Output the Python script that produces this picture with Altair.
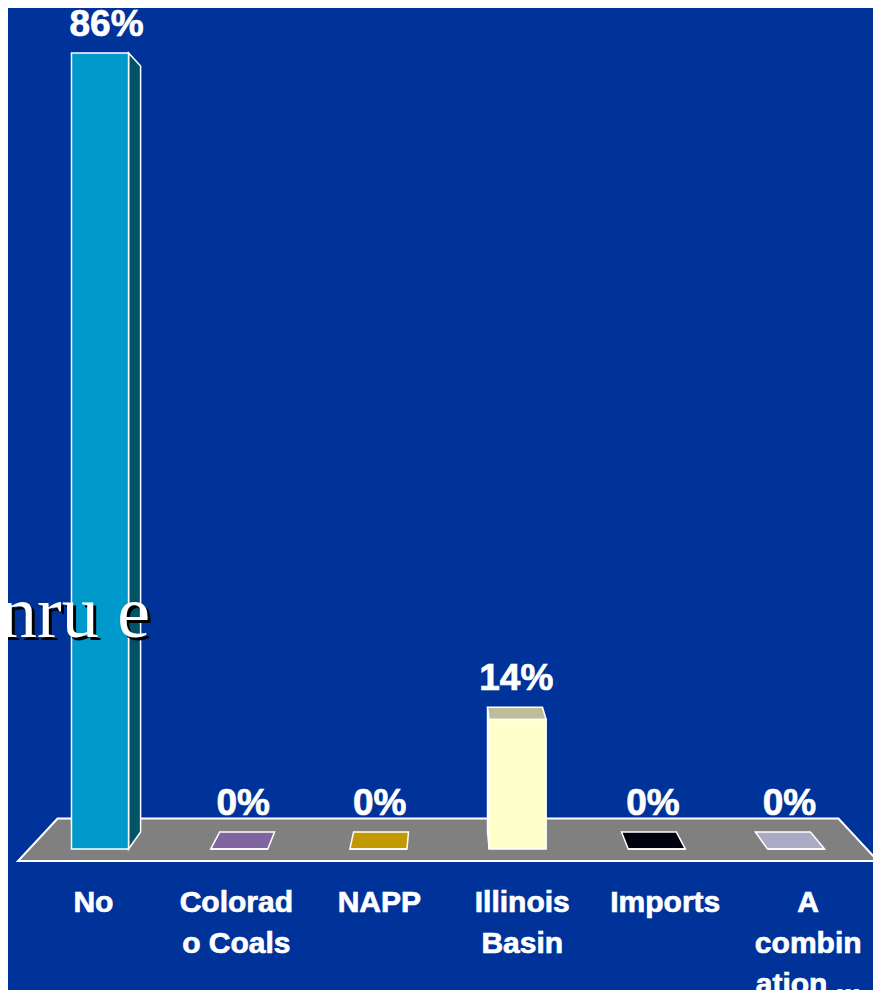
import altair as alt
import pandas as pd

# ---- data ----
categories = ["No", "Colorado Coals", "NAPP", "Illinois Basin", "Imports", "A combination ..."]
label_lines = ["No", "Colorad\no Coals", "NAPP", "Illinois\nBasin", "Imports", "A\ncombin\nation ..."]
values = [86, 0, 0, 14, 0, 0]
value_labels = ["86%", "0%", "0%", "14%", "0%", "0%"]
front_colors = ["#0099cc", "#8064a2", "#c09a00", "#ffffcc", "#00000f", "#aaaac4"]
side_colors = ["#005266", "#4d3c66", "#735c00", "#bdbd99", "#000000", "#66667a"]
top_colors = ["#00a3d9", "#8064a2", "#c09a00", "#bdbd99", "#00000f", "#aaaac4"]
overlay_text = "nru e"

# ---- styling / 3D projection parameters ----
W, H = 865, 982
HALF = 0.205          # half bar width in category units
VX, VY = 2.5, 48.7    # vanishing point (category units, value units)
R = 0.9623            # back-face scale toward vanishing point
FLOOR_FRONT_Y = -1.3
FLOOR_HALF = 3.089
FLOOR_R = 0.908
LABEL_SPREAD = 1.027

BG = "#003399"


def bx(x):
    return VX + (x - VX) * R


def by(y):
    return VY + (y - VY) * R


front_rows, side_rows, top_rows, val_rows, cat_rows = [], [], [], [], []
for i, (cat, v) in enumerate(zip(categories, values)):
    xl, xr = i - HALF, i + HALF
    front_rows.append(dict(cat=cat, x1=xl, x2=xr, y1=0, y2=v, fill=front_colors[i]))
    if v > 0:
        if xr < VX:
            side_rows += [dict(face=cat, x=xr, y=0, y2=v, fill=side_colors[i]),
                          dict(face=cat, x=bx(xr), y=by(0), y2=by(v), fill=side_colors[i])]
        elif xl > VX:
            side_rows += [dict(face=cat, x=bx(xl), y=by(0), y2=by(v), fill=side_colors[i]),
                          dict(face=cat, x=xl, y=0, y2=v, fill=side_colors[i])]
    if v < VY:
        top_rows += [dict(face=cat, y=v, x=xl, x2=xr, fill=top_colors[i]),
                     dict(face=cat, y=by(v), x=bx(xl), x2=bx(xr), fill=top_colors[i])]
    val_rows.append(dict(cat=cat, x=(i + bx(i)) / 2, y=max(v, by(v)), label=value_labels[i]))
    cat_rows.append(dict(cat=cat, x=VX + (i - VX) * LABEL_SPREAD + 0.02, label=label_lines[i]))

floor_back_y = VY + (FLOOR_FRONT_Y - VY) * FLOOR_R
floor_rows = [
    dict(face="floor", y=FLOOR_FRONT_Y, x=VX - FLOOR_HALF, x2=VX + FLOOR_HALF),
    dict(face="floor", y=floor_back_y, x=VX - FLOOR_HALF * FLOOR_R, x2=VX + FLOOR_HALF * FLOOR_R),
]

xs = alt.Scale(domain=[-0.661, 5.553], nice=False, zero=False)
ys = alt.Scale(domain=[-15.23, 90.86], nice=False, zero=False)
noax = None

floor = alt.Chart(pd.DataFrame(floor_rows)).mark_area(
    orient="horizontal", color="#808080", stroke="white", strokeWidth=2, opacity=1
).encode(
    y=alt.Y("y:Q", scale=ys, axis=noax, stack=False),
    x=alt.X("x:Q", scale=xs, axis=noax),
    x2="x2:Q",
    detail="face:N",
)

sides = alt.Chart(pd.DataFrame(side_rows)).mark_area(
    orient="vertical", stroke="white", strokeWidth=1.5, opacity=1
).encode(
    x=alt.X("x:Q", scale=xs, axis=noax),
    y=alt.Y("y:Q", scale=ys, axis=noax, stack=False),
    y2="y2:Q",
    fill=alt.Fill("fill:N", scale=None),
    detail="face:N",
)

tops = alt.Chart(pd.DataFrame(top_rows)).mark_area(
    orient="horizontal", stroke="white", strokeWidth=1.5, opacity=1
).encode(
    y=alt.Y("y:Q", scale=ys, axis=noax, stack=False),
    x=alt.X("x:Q", scale=xs, axis=noax),
    x2="x2:Q",
    fill=alt.Fill("fill:N", scale=None),
    detail="face:N",
)

fronts = alt.Chart(pd.DataFrame(front_rows)).mark_rect(
    stroke="white", strokeWidth=1.5
).encode(
    x=alt.X("x1:Q", scale=xs, axis=noax),
    x2="x2:Q",
    y=alt.Y("y1:Q", scale=ys, axis=noax),
    y2="y2:Q",
    fill=alt.Fill("fill:N", scale=None),
)

val_text = alt.Chart(pd.DataFrame(val_rows)).mark_text(
    font="Liberation Sans", fontSize=37, fontWeight="bold", color="white",
    stroke="white", strokeWidth=0.7,
    align="center", baseline="alphabetic", dy=-17
).encode(
    x=alt.X("x:Q", scale=xs, axis=noax),
    y=alt.Y("y:Q", scale=ys, axis=noax),
    text="label:N",
)

cat_text = alt.Chart(pd.DataFrame(cat_rows)).mark_text(
    font="Liberation Sans", fontSize=30, fontWeight="bold", color="white",
    stroke="white", strokeWidth=0.7,
    align="center", baseline="alphabetic", lineBreak="\n", lineHeight=41
).encode(
    x=alt.X("x:Q", scale=xs, axis=noax),
    y=alt.value(904),
    text="label:N",
)

ov_df = pd.DataFrame([dict(t=overlay_text)])
ov_shadow = alt.Chart(ov_df).mark_text(
    font="Liberation Serif", fontSize=74, color="black", align="right", baseline="alphabetic"
).encode(x=alt.value(145), y=alt.value(632), text="t:N")
ov_text = alt.Chart(ov_df).mark_text(
    font="Liberation Serif", fontSize=74, color="white", align="right", baseline="alphabetic"
).encode(x=alt.value(142), y=alt.value(629), text="t:N")

chart = alt.layer(floor, sides, tops, fronts, val_text, cat_text, ov_shadow, ov_text).properties(
    width=W, height=H, background=BG, padding=0, autosize=alt.AutoSizeParams(type="none")
).configure_view(stroke=None)

chart.save("out.html", embed_options={"renderer": "svg", "actions": False})
